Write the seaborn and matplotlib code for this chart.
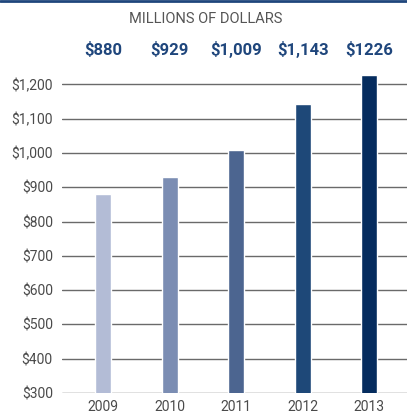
import matplotlib
matplotlib.use("Agg")
import matplotlib.pyplot as plt
import seaborn as sns
import pandas as pd
from matplotlib.lines import Line2D

years = ["2009", "2010", "2011", "2012", "2013"]
values = [880, 929, 1009, 1143, 1226]
value_labels = ["$880", "$929", "$1,009", "$1,143", "$1226"]
colors = ["#b3bcd6", "#7b8db3", "#4c6590", "#1e4878", "#052c5e"]
ytick_vals = [300, 400, 500, 600, 700, 800, 900, 1000, 1100, 1200]
ytick_labels = ["$300", "$400", "$500", "$600", "$700", "$800", "$900", "$1,000", "$1,100", "$1,200"]
title = "MILLIONS OF DOLLARS"

sns.set_theme(style="white")
plt.rcParams["font.family"] = ["Roboto", "DejaVu Sans"]

df = pd.DataFrame({"year": years, "value": values})

fig = plt.figure(figsize=(4.07, 4.16), dpi=100)
ax = fig.add_axes([0.152, 0.0553, 0.848, 0.783])

sns.barplot(data=df, x="year", y="value", hue="year", palette=colors,
            width=0.24, legend=False, ax=ax, saturation=1)

ax.set_ylim(300, 1250)
ax.set_xlim(-0.62, 4.57)
ax.set_yticks(ytick_vals)
ax.set_yticklabels(ytick_labels)
ax.set_xlabel("")
ax.set_ylabel("")
ax.grid(axis="y", color="#6a6a6a", linewidth=1.0)
ax.grid(axis="x", visible=False)
ax.set_axisbelow(True)
for s in ax.spines.values():
    s.set_visible(False)
ax.tick_params(axis="both", length=0, labelsize=10, colors="#4a4a4a")
ax.tick_params(axis="y", pad=6.5)
ax.tick_params(axis="x", pad=5)

trans = ax.get_xaxis_transform()
import matplotlib.transforms as mtransforms
blend = mtransforms.blended_transform_factory(ax.transData, fig.transFigure)
for i, lab in enumerate(value_labels):
    ax.text(i, 1 - 50 / 416, lab, transform=blend, ha="center", va="center",
            fontsize=12, fontweight="bold", color="#1f467c")

fig.text(0.505, 1 - 19 / 416, title, ha="center", va="center",
         fontsize=10.5, color="#555555")

fig.add_artist(Line2D([0, 1], [1 - 1 / 416, 1 - 1 / 416], transform=fig.transFigure,
                      color="#1f467c", linewidth=2))

fig.savefig("out.png", dpi=100)
